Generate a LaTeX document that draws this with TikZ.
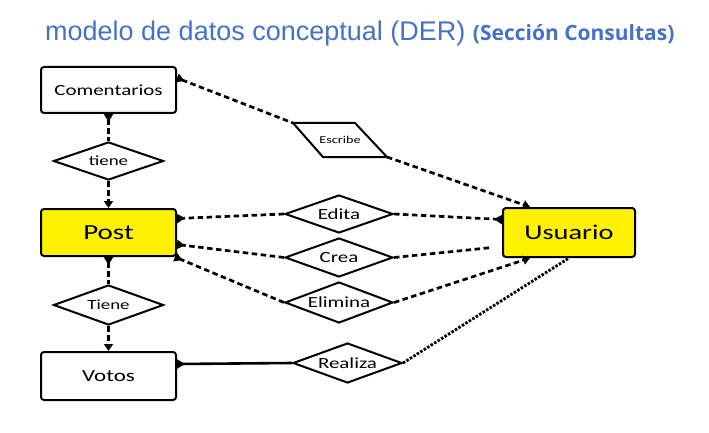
\documentclass[tikz,border=0pt]{standalone}
\usepackage{fontspec}
\usetikzlibrary{shapes.geometric,arrows.meta}
\newfontfamily\dfont{Carlito}[FakeStretch=1.35]
\newfontfamily\tfont{Liberation Sans}
\newfontfamily\bfontt{Open Sans}
\definecolor{titleblue}{RGB}{68,114,196}
\definecolor{ery}{RGB}{255,242,0}
\tikzset{
  crow/.tip={Triangle[reversed,length=8pt,width=9pt]},
  into/.tip={Triangle[length=7pt,width=9pt]},
  entity/.style={draw, line width=2pt, rounded corners=3pt, minimum width=135pt, inner sep=0pt},
  rel/.style={diamond, draw, line width=2pt, aspect=2.8, inner sep=0pt, minimum width=108pt},
  dline/.style={line width=2.7pt, dash pattern=on 5.5pt off 3.5pt},
  dotline/.style={line width=2.8pt, dash pattern=on 2.5pt off 1.6pt},
  sline/.style={line width=2.6pt},
  txt/.style={font=\dfont\fontsize{15.5}{18}\selectfont}
}
\begin{document}
\begin{tikzpicture}[x=1pt,y=-1pt]
\useasboundingbox (0,0) rectangle (709,433);
% title
\node[anchor=base west, inner sep=0pt, text=titleblue, font=\tfont\fontsize{27}{32}\selectfont] (title) at (45,41)
  {modelo de datos conceptual (DER) {\bfontt\bfseries\fontsize{21}{24}\selectfont (Sección Consultas)}};
% entities
\node[entity, minimum height=46pt, txt] (com) at (108.5,90) {Comentarios};
\node[entity, minimum height=47pt, fill=ery, font=\dfont\fontsize{21.5}{24}\selectfont] (post) at (108.5,232.5) {Post};
\node[entity, minimum height=48pt, font=\dfont\fontsize{17}{20}\selectfont] (vot) at (108.5,376) {Votos};
\node[entity, minimum width=132pt, minimum height=49pt, fill=ery, font=\dfont\fontsize{21}{24}\selectfont] (usu) at (569,232.5) {Usuario};
% relations
\node[rel, minimum width=110pt, minimum height=38pt, font=\dfont\fontsize{14}{16}\selectfont] (tiene1) at (108.5,161) {tiene};
\node[rel, minimum width=110pt, minimum height=40pt, font=\dfont\fontsize{14}{16}\selectfont] (tiene2) at (108.5,305) {Tiene};
\node[rel, minimum height=38pt, txt] (edita) at (339,214) {Edita};
\node[rel, minimum height=39pt, txt] (crea) at (339,257.5) {Crea};
\node[rel, minimum height=41pt, txt] (elim) at (339,302.5) {Elimina};
\node[rel, minimum width=109pt, minimum height=40pt, txt] (real) at (347.5,363) {Realiza};
% Escribe (parallelogram)
\node[inner sep=0pt, font=\dfont\fontsize{10.5}{12}\selectfont] (esc) at (340,140) {Escribe};
\coordinate (escTL) at (293,123);
\coordinate (escTR) at (355,123);
\coordinate (escBR) at (387,157);
\coordinate (escBL) at (323,157);
\draw[line width=2pt, line join=miter] (escTL) -- (escTR) -- (escBR) -- (escBL) -- cycle;
% connectors
\draw[dline, crow-] ([yshift=-12pt]com.north east) -- (escTL);
\draw[dline, -into] (escBR) -- ([xshift=-39pt]usu.north);
\draw[dline, crow-] (com.south) -- (tiene1.north);
\draw[dline, -into] (tiene1.south) -- (post.north);
\draw[dline, crow-] (post.south) -- (tiene2.north);
\draw[dline, -into] (tiene2.south) -- (vot.north);
\draw[dline, -crow] (edita.west) -- ([yshift=14pt]post.east);
\draw[dline, -crow] (crea.west) -- ([yshift=-12pt]post.east);
\draw[dline, -crow] (elim.west) -- ([xshift=-2pt]post.south east);
\draw[dline, -crow] (edita.east) -- ([yshift=13pt]usu.west);
\draw[dline, shorten >=10pt] (crea.east) -- ([yshift=-14pt]usu.west);
\draw[dline, -into] (elim.east) -- ([xshift=-39pt]usu.south);
\draw[dotline] (real.east) -- (usu.south);
\draw[sline, crow-] ([yshift=12pt]vot.east) -- (real.west);
\end{tikzpicture}
\end{document}
